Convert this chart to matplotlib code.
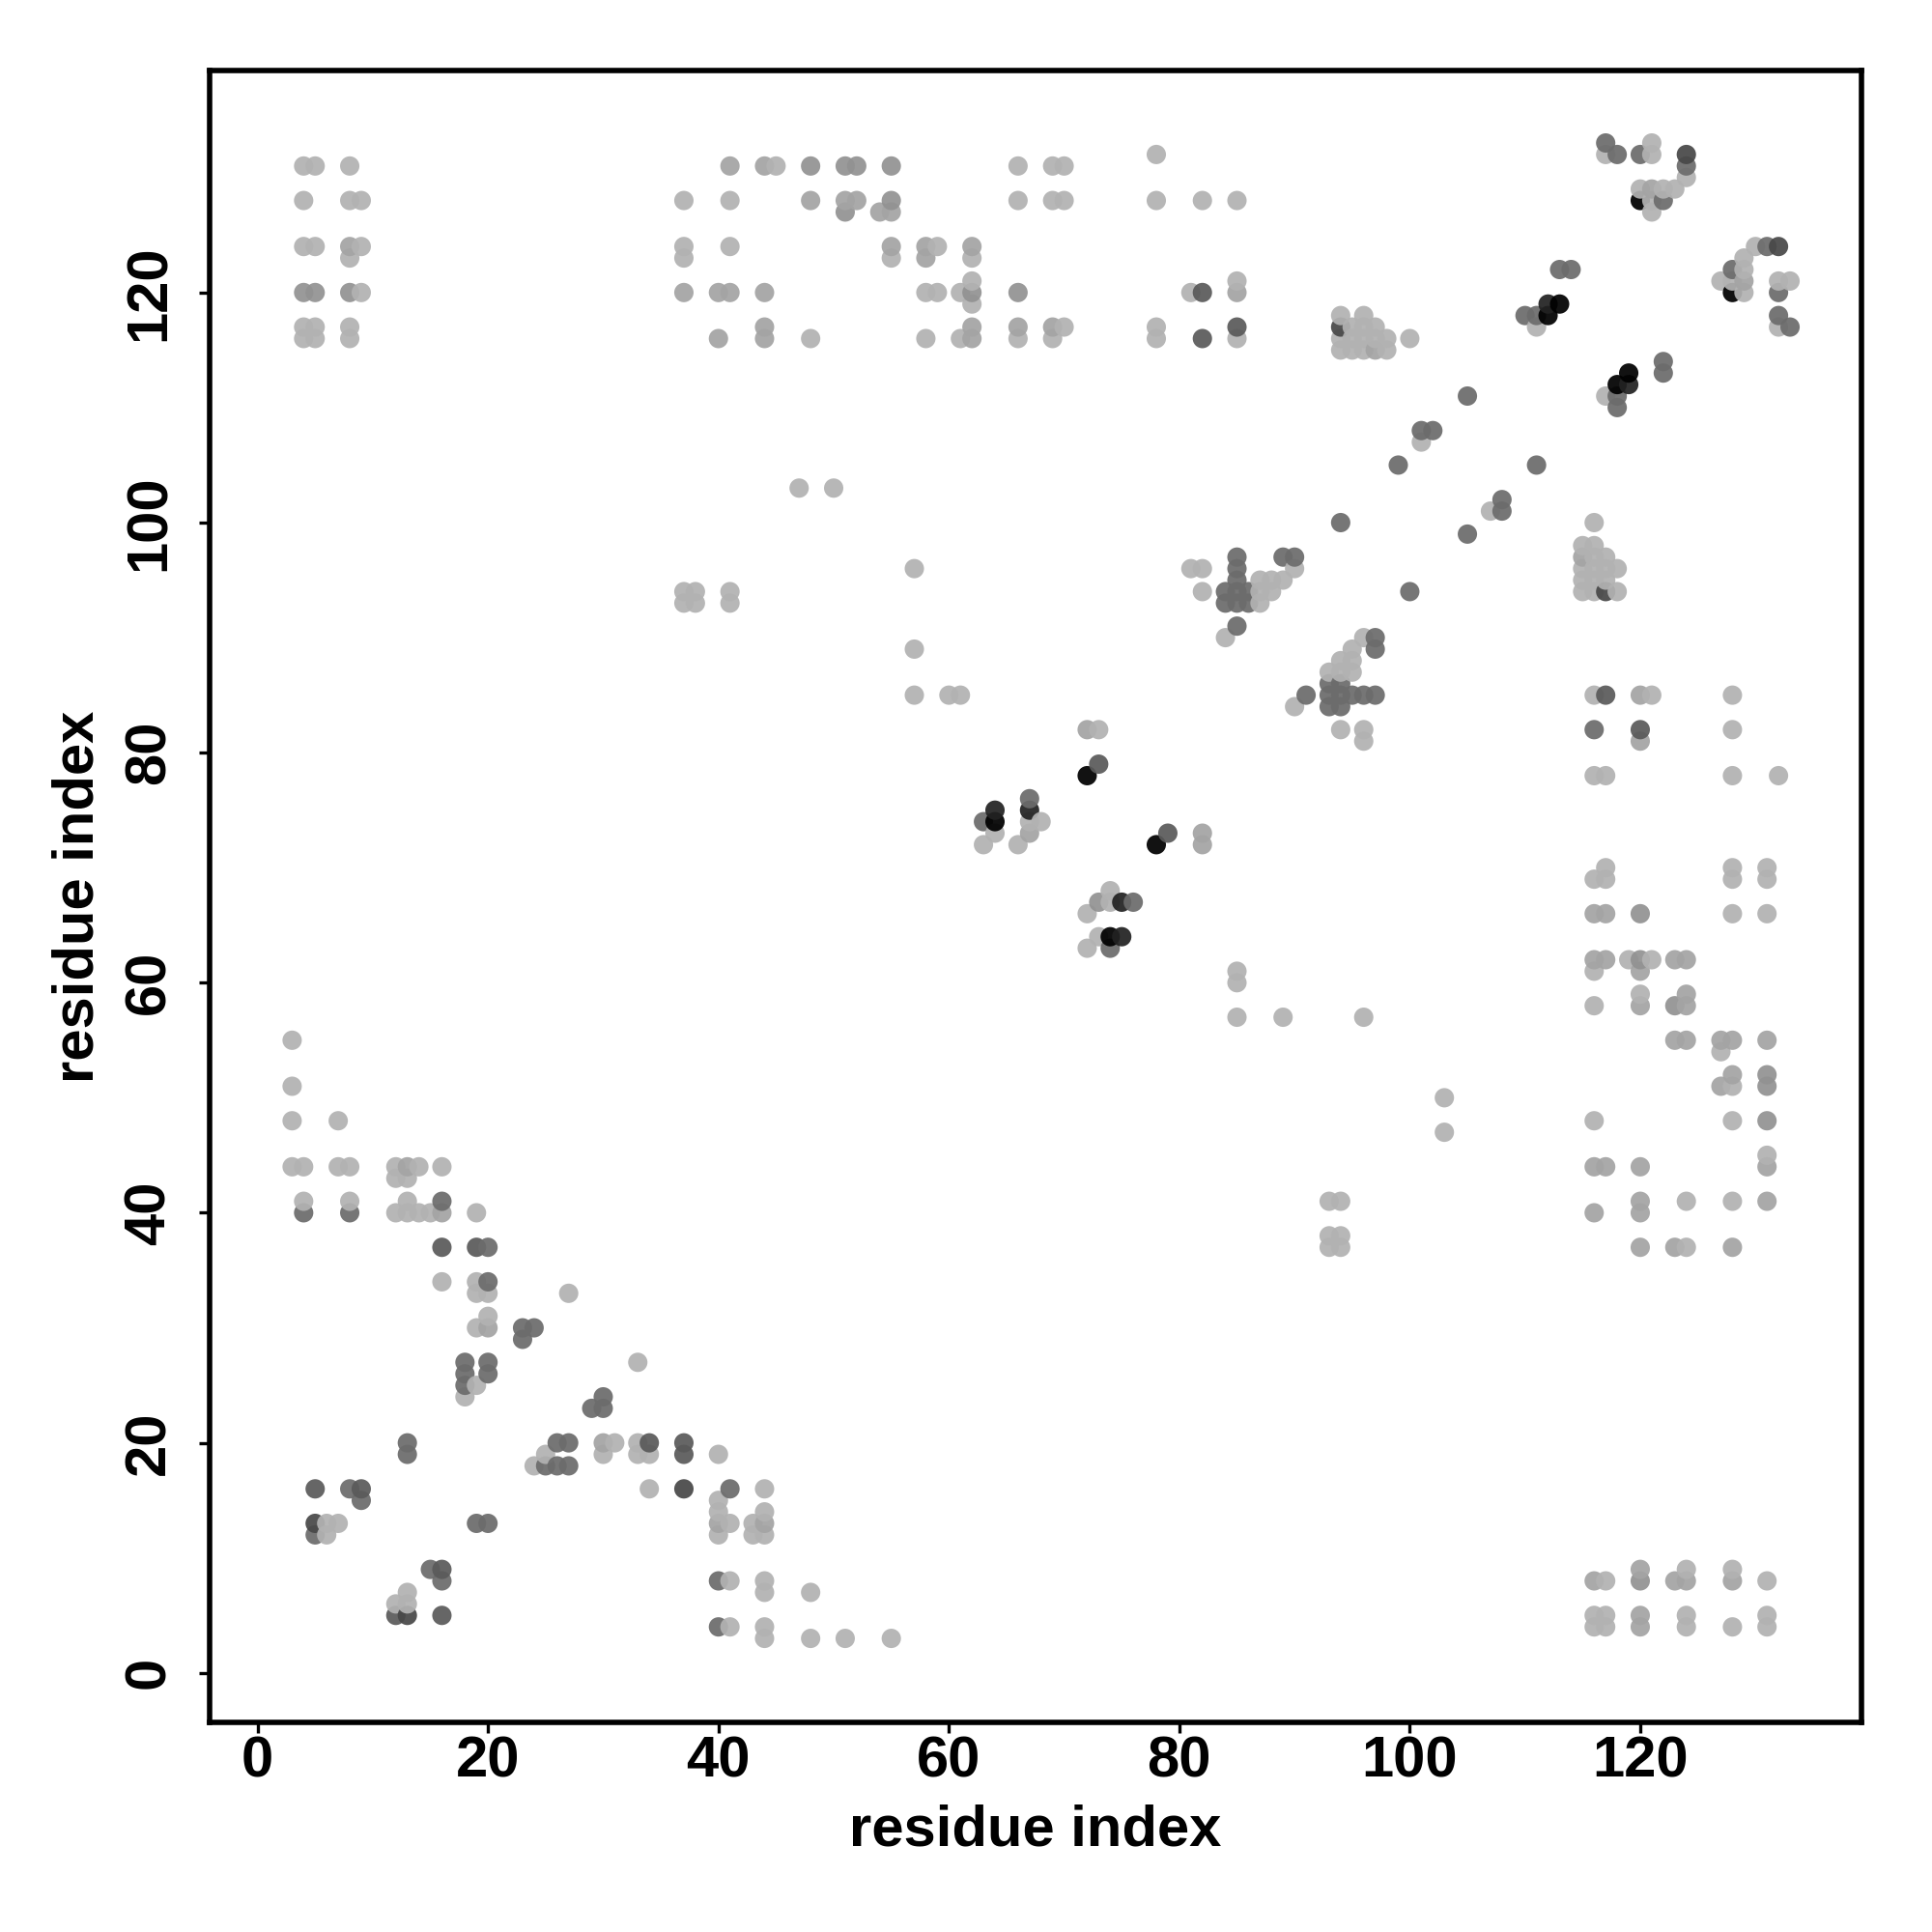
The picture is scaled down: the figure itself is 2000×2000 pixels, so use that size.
import matplotlib
matplotlib.use("Agg")
import matplotlib.pyplot as plt

plt.rcParams['font.family'] = ['Liberation Sans', 'DejaVu Sans']

# contacts (residue i, residue j), one list per grey level
pale = [
    (3,55),(3,51),(3,48),(7,48),(3,44),(4,44),(7,44),(8,44),(12,44),(14,44),(16,44),(12,43),(13,43),
    (4,41),(8,41),(13,41),(12,40),(13,40),(14,40),(15,40),(19,40),(16,34),(19,34),(19,33),(20,33),(27,33),
    (20,31),(19,30),(33,27),(19,25),(18,24),(31,20),(33,20),(25,19),(30,19),(33,19),(34,19),(40,19),
    (24,18),(34,16),(44,16),(40,15),(40,14),(44,14),(6,13),(7,13),(41,13),(43,13),(6,12),(40,12),(43,12),(44,12),
    (41,8),(44,8),(13,7),(44,7),(48,7),(12,6),(13,6),(41,4),(44,4),(44,3),(48,3),(51,3),(55,3),
    (47,103),(50,103),(37,94),(38,94),(41,94),(37,93),(38,93),(41,93),(57,96),(57,89),(57,85),(60,85),(61,85),
    (103,50),(103,47),(93,41),(94,41),(93,38),(94,38),(93,37),(94,37),
    (85,61),(85,60),(85,57),(89,57),(96,57),(73,82),(64,73),(63,72),(66,72),(67,74),(68,74),
    (74,68),(74,67),(72,66),(73,64),(72,63),
    (81,96),(82,96),(82,94),(84,90),(87,95),(88,95),(89,95),(87,94),(88,94),(87,93),(90,96),
    (96,90),(95,89),(94,88),(95,88),(93,87),(94,87),(95,87),(90,84),(94,82),(96,82),(96,81),
    (116,100),(115,98),(116,98),(116,97),(117,97),(116,96),(117,96),(118,96),(115,95),(116,95),(117,95),
    (115,94),(116,94),(118,94),(115,96),
    (94,118),(96,118),(95,117),(96,117),(97,117),(94,116),(95,116),(96,116),(97,116),(98,116),(100,116),
    (94,115),(95,115),(96,115),(98,115),
    (117,132),(121,133),(121,132),(124,130),(120,129),(122,129),(123,129),(121,128),(121,127),
    (130,124),(129,123),(129,122),(127,121),(128,121),(129,120),(132,121),(133,121),(132,117),
    (111,117),(117,111),(101,107),(107,101),
    (116,85),(121,85),(128,85),(128,82),(116,78),(117,78),(128,78),(132,78),
    (117,70),(128,70),(131,70),(116,69),(117,69),(128,69),(131,69),(128,66),(131,66),
    (119,62),(121,62),(116,58),(116,61),(131,45),(128,48),(116,48),(124,41),(128,41),
    (124,37),(127,54),(128,51),(120,59),
    (4,131),(5,131),(8,131),(4,128),(8,128),(9,128),(4,124),(5,124),(9,124),(8,123),(9,120),
    (4,117),(5,117),(8,117),(4,116),(5,116),(8,116),
    (45,131),(41,124),(37,124),(37,123),(55,123),(48,116),(41,128),(37,128),
    (66,131),(69,131),(70,131),(78,132),(66,128),(69,128),(70,128),(78,128),(82,128),(85,128),
    (59,124),(62,123),(62,121),(85,121),(81,120),(59,120),(58,120),(61,120),(62,119),
    (66,116),(69,116),(70,117),(78,117),(78,116),(85,116),(58,116),(61,116),
    (116,5),(117,5),(116,4),(117,4),(124,5),(124,4),(128,4),(131,5),(131,4),(131,8),(128,9),(124,9),(117,8),
]
mid = [
    (13,44),(16,40),(20,30),(30,20),(40,13),(44,13),(67,73),(82,73),(82,72),(72,82),
    (121,129),(129,121),(115,97),(97,115),(120,85),(120,81),(116,66),(117,66),
    (116,62),(117,62),(123,62),(124,62),(120,61),(116,44),(117,44),(120,44),(131,44),
    (124,59),(124,58),(120,58),(123,55),(124,55),(127,55),(128,55),(128,52),(120,41),(131,41),(116,40),
    (120,40),(120,37),(123,37),(128,37),(116,8),(123,8),(124,8),(128,8),
    (8,124),(41,131),(44,131),(40,120),(41,120),(37,120),(44,120),(44,117),(44,116),(40,116),(51,128),(52,128),(48,128),
    (54,127),(55,127),(55,124),(58,124),(58,123),(62,124),(66,117),(69,117),(62,117),(62,116),(85,120),
    (127,51),(131,55),(120,9),(120,5),(120,4),
]
mid_dark = [
    (4,120),(5,120),(8,120),(48,131),(51,131),(52,131),(55,131),(55,128),(51,127),
    (73,67),(62,120),(66,120),(120,66),(120,62),(123,58),(131,52),(131,51),(131,48),(120,8),
]
dark = [
    (4,40),(8,40),(16,41),(20,37),(20,34),(23,30),(24,30),(23,29),(18,27),(20,27),(18,26),(20,26),(18,25),
    (30,24),(29,23),(30,23),(13,20),(26,20),(27,20),(13,19),(25,18),(26,18),(27,18),(8,16),(41,16),(9,15),
    (19,13),(20,13),(5,12),(15,9),(16,8),(40,8),(40,4),
    (63,74),(67,76),(76,67),(74,63),
    (85,97),(85,96),(85,95),(84,94),(85,94),(86,94),(84,93),(85,93),(86,93),(85,91),(89,97),(90,97),
    (97,90),(97,89),(93,86),(94,86),(93,85),(94,85),(95,85),(96,85),(97,85),(91,85),(93,84),(94,84),
    (94,100),(100,94),(99,105),(105,99),(105,111),(111,105),(101,108),(102,108),(108,102),(108,101),
    (113,122),(114,122),(110,118),(111,118),(118,111),(118,110),(122,114),(122,113),
    (117,133),(118,132),(120,132),(124,131),(122,128),(128,122),(131,124),(132,120),(132,118),(133,117),
    (116,82),
]
darker = [
    (16,37),(19,37),(5,16),(9,16),(34,20),(37,20),(37,19),(16,9),(12,5),(16,5),
    (73,79),(79,73),(117,85),(120,82),(82,120),(82,116),(85,117),
]
darkest = [(5,13),(13,5),(37,16),(124,132),(132,124),(117,94),(94,117)]
near_black = [(64,75),(67,75),(75,67),(75,64),(112,119),(119,112)]
black = [(72,78),(78,72),(64,74),(74,64),(112,118),(113,119),(118,112),(119,113),(120,128),(128,120)]

levels = [pale, mid, mid_dark, dark, darker, darkest, near_black, black]
grey_colors = ['#b2b2b2', '#a4a4a4', '#929292', '#6c6c6c', '#5a5a5a', '#484848', '#222222', '#000000']

# later residues are drawn on top, same as the pair loop that made the plot
points = {}
for pts, col in zip(levels, grey_colors):
    for p in pts:
        points[p] = col
order = sorted(points)
xs = [p[0] for p in order]
ys = [p[1] for p in order]
cols = [points[p] for p in order]

fig = plt.figure(figsize=(10, 10), dpi=200)
ax = fig.add_axes([0.1085, 0.1085, 0.855, 0.855])
ax.scatter(xs, ys, s=52, c=cols, linewidths=0, alpha=0.93)

ax.set_xlim(-4.16, 139.2)
ax.set_ylim(-4.3, 139.3)
ax.set_xticks(range(0, 121, 20))
ax.set_yticks(range(0, 121, 20))
ax.tick_params(length=4, width=1.2)
ax.tick_params(axis='x', labelsize=21.5, pad=1)
ax.tick_params(axis='y', labelsize=21.5, pad=8.5)
for lab in ax.get_xticklabels():
    lab.set_fontweight('bold')
for lab in ax.get_yticklabels():
    lab.set_fontweight('bold')
    lab.set_rotation(90)
    lab.set_va('center')
for sp in ax.spines.values():
    sp.set_linewidth(2.0)

fig.text(0.5358, 0.0525, 'residue index', ha='center', va='center', fontsize=21.5, fontweight='bold')
fig.text(0.0405, 0.536, 'residue index', ha='center', va='center', rotation=90, fontsize=21.5, fontweight='bold')

fig.savefig('out.png', dpi=200)
